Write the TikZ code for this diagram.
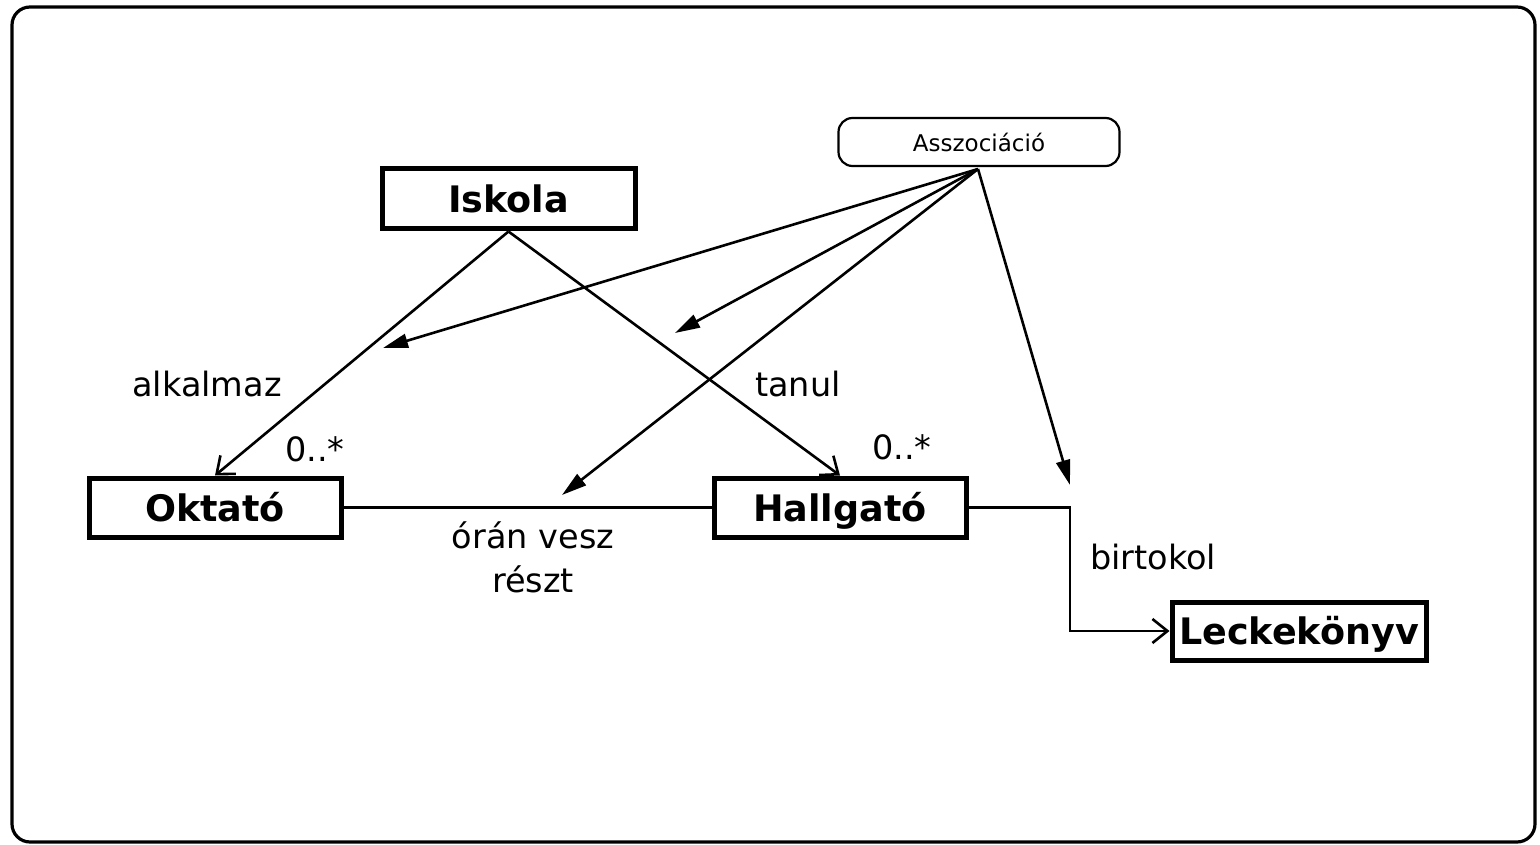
\documentclass[tikz,border=0pt]{standalone}
\usepackage{fontspec}
\setmainfont{DejaVu Sans}
\usetikzlibrary{arrows.meta}
\begin{document}
\begin{tikzpicture}[x=1pt,y=-1pt,
  cls/.style={draw,line width=5pt,minimum width=252pt,minimum height=59pt,inner sep=0pt,text height=35pt,text depth=8pt,font=\fontsize{36.5}{40}\selectfont\bfseries},
  lbl/.style={font=\fontsize{33.5}{44}\selectfont,inner sep=0pt},
  conn/.style={line width=2.6pt},
  openarr/.style={conn,-{Straight Barb[length=15pt,width=24pt,line width=2.6pt]}},
  fillarr/.style={conn,-{Triangle[length=25pt,width=14pt]}}]
\useasboundingbox (0,0) rectangle (1540,845);
\draw[line width=3.2pt,rounded corners=18pt] (12,7) rectangle (1535,842);
\node[cls,minimum width=253pt,minimum height=60pt] (iskola) at (508.5,199) {Iskola};
\node[cls] (oktato) at (215,507.5) {Oktató};
\node[cls] (hallgato) at (840,507.5) {Hallgató};
\node[cls,minimum width=254pt,minimum height=58pt] (lecke) at (1299,631) {Leckekönyv};
\node[draw,line width=2.2pt,rounded corners=14pt,minimum width=281pt,minimum height=48pt,inner sep=0pt,font=\fontsize{23}{26}\selectfont] (assoc) at (979,142) {Asszociáció};
\draw[openarr] (iskola.south) -- (oktato.north);
\draw[openarr] (iskola.south) -- (hallgato.north);
\draw[conn] (oktato.east) -- (hallgato.east -| hallgato.west);
\draw[openarr] (hallgato.east) -- (1070,507.5) |- (lecke.west);
\coordinate (src) at (978,169);
\coordinate (t1) at (383,348);
\coordinate (t2) at (675,333);
\coordinate (t3) at (562,495);
\coordinate (t4) at (1070,485);
\draw[fillarr] (src) -- (t1);
\draw[fillarr] (src) -- (t2);
\draw[fillarr] (src) -- (t3);
\draw[fillarr] (src) -- (t4);
\node[lbl] (l1) at (207,384) {alkalmaz};
\node[lbl] (l2) at (798,384) {tanul};
\node[lbl] (m1) at (315,449) {0..*};
\node[lbl] (m2) at (902,447) {0..*};
\node[lbl,align=center] (l3) at (533,557) {órán vesz\\részt};
\node[lbl] (l4) at (1153,557) {birtokol};
\end{tikzpicture}
\end{document}
